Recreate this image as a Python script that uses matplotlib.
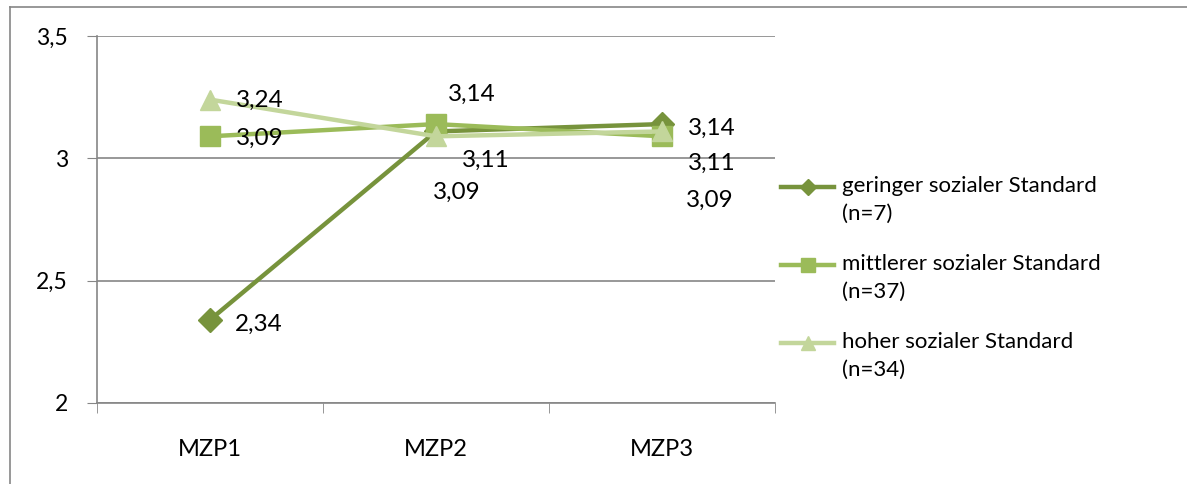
import matplotlib
matplotlib.use("Agg")
import matplotlib.pyplot as plt
from matplotlib.lines import Line2D
from matplotlib.legend_handler import HandlerLine2D

# data
categories = ["MZP1", "MZP2", "MZP3"]
geringer = [2.34, 3.11, 3.14]
mittlerer = [3.09, 3.14, 3.09]
hoher = [3.24, 3.09, 3.11]
series_names = ["geringer sozialer Standard\n(n=7)",
                "mittlerer sozialer Standard\n(n=37)",
                "hoher sozialer Standard\n(n=34)"]
y_ticks = [2, 2.5, 3, 3.5]
y_tick_labels = ["2", "2,5", "3", "3,5"]

# label offsets in pixels (manual placement as in the original)
offsets = {
    "geringer": [(25, -5), (26, -29), (26, -4)],
    "mittlerer": [(26, -2), (12, 30), (24, -64)],
    "hoher": [(26, -1), (-3, -56), (26, -32)],
}


class FirstLineHandler(HandlerLine2D):
    # put the legend line next to the first text line, like Excel does
    def create_artists(self, legend, orig_handle, xdescent, ydescent,
                       width, height, fontsize, trans):
        return super().create_artists(legend, orig_handle, xdescent,
                                      ydescent - 18.5, width, height,
                                      fontsize, trans)


plt.rcParams['font.family'] = ['Lato', 'DejaVu Sans']

fig = plt.figure(figsize=(11.87, 4.84), dpi=100)
ax = fig.add_axes([97 / 1187, 1 - 403 / 484, (775 - 97) / 1187, (403 - 36) / 484])

x = list(range(len(categories)))
styles = [
    ("geringer", geringer, "#77933C", "D", 12),
    ("mittlerer", mittlerer, "#9BBB59", "s", 14),
    ("hoher", hoher, "#C3D69B", "^", 15),
]
lines = []
for (key, vals, col, mk, ms), name in zip(styles, series_names):
    ln, = ax.plot(x, vals, color=col, lw=3.2, marker=mk, markersize=ms,
                  markeredgecolor=col, markerfacecolor=col, label=name, zorder=3)
    lines.append(ln)
    for i, v in enumerate(vals):
        dx, dy = offsets[key][i]
        ax.annotate(f"{v:.2f}".replace(".", ","), xy=(i, v), xytext=(dx, dy),
                    textcoords="offset pixels", ha="left", va="center",
                    fontsize=17.5, color="black", zorder=4)

ax.set_xlim(-0.5, 2.5)
ax.set_ylim(2, 3.5)
ax.set_yticks(y_ticks)
ax.set_yticklabels(y_tick_labels, fontsize=16.5)
ax.set_xticks(x)
ax.set_xticklabels(categories, fontsize=17)
ax.set_xticks([-0.5, 0.5, 1.5, 2.5], minor=True)
ax.tick_params(axis="x", which="major", length=0, pad=26)
ax.tick_params(axis="x", which="minor", length=7, color="#868686", direction="out")
ax.tick_params(axis="y", length=7, color="#868686", direction="out", pad=14)
ax.grid(axis="y", color="#868686", lw=1.2, zorder=0)
for s in ["top", "right"]:
    ax.spines[s].set_visible(False)
for s in ["left", "bottom"]:
    ax.spines[s].set_color("#868686")
    ax.spines[s].set_linewidth(1.2)

leg = ax.legend(loc="upper left", bbox_to_anchor=(781 / 1187, 1 - 176 / 484),
                bbox_transform=fig.transFigure, frameon=False, fontsize=16,
                handlelength=2.4, handletextpad=0.35, labelspacing=1.35,
                markerscale=0.7, borderaxespad=0, borderpad=0,
                handler_map={ln: FirstLineHandler() for ln in lines})
for t in leg.get_texts():
    t.set_linespacing(1.5)

# outer chart border (only top and left visible in the crop)
fig.add_artist(Line2D([10 / 1187, 10 / 1187], [0, 1 - 7 / 484],
                      transform=fig.transFigure, color="#868686", lw=1.2))
fig.add_artist(Line2D([10 / 1187, 1], [1 - 7 / 484, 1 - 7 / 484],
                      transform=fig.transFigure, color="#868686", lw=1.2))

fig.savefig("out.png", dpi=100, facecolor="white")
